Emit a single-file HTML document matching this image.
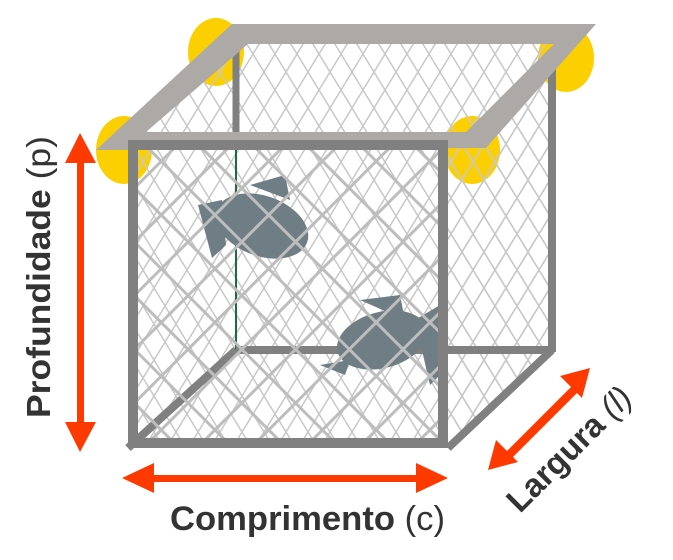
<!DOCTYPE html>
<html><head><style>
html,body{margin:0;padding:0;background:#fff;}
svg{display:block}
text{font-family:"Liberation Sans",sans-serif;font-weight:bold;fill:#333}
</style></head><body>
<svg width="673" height="560" viewBox="0 0 673 560" xmlns="http://www.w3.org/2000/svg">
<defs>
<pattern id="mesh" width="38" height="38" patternUnits="userSpaceOnUse" patternTransform="rotate(45)">
<rect width="38" height="38" fill="none" stroke="#bdbdbd" stroke-width="3"/>
</pattern>
<pattern id="mesh2" width="22" height="36" patternUnits="userSpaceOnUse">
<path d="M0 0 L11 18 L0 36 M22 0 L11 18 L22 36" fill="none" stroke="#c8c8c8" stroke-width="1.5"/>
</pattern>
</defs>
<ellipse cx="216" cy="52" rx="28" ry="34" fill="#fcd000"/>
<ellipse cx="124" cy="150" rx="28" ry="34" fill="#fcd000"/>
<ellipse cx="566" cy="58" rx="28" ry="34" fill="#fcd000"/>
<ellipse cx="472" cy="150" rx="28" ry="34" fill="#fcd000"/>
<polygon points="236,40 552,40 552,350 236,350" fill="url(#mesh2)"/>
<polygon points="128,140 236,40 236,350 128,448" fill="url(#mesh2)"/>
<polygon points="448,140 552,40 552,350 448,448" fill="url(#mesh2)"/>
<polygon points="128,448 236,350 552,350 448,448" fill="url(#mesh2)"/>
<line x1="236" y1="40" x2="236" y2="150" stroke="#808080" stroke-width="7"/>
<line x1="236" y1="150" x2="236" y2="350" stroke="#1e6b3a" stroke-width="2"/>
<line x1="552" y1="60" x2="552" y2="352" stroke="#808080" stroke-width="8"/>
<line x1="236" y1="350" x2="552" y2="350" stroke="#808080" stroke-width="8"/>
<line x1="128" y1="448" x2="236" y2="350" stroke="#808080" stroke-width="8"/>
<line x1="448" y1="448" x2="552" y2="350" stroke="#808080" stroke-width="8"/>
<g fill="#6f7d84">
<ellipse cx="262" cy="226" rx="48" ry="30" transform="rotate(20 262 226)"/>
<polygon points="198,205 222,200 226,245 212,258"/>
<polygon points="250,185 285,175 290,200"/>
<ellipse cx="382" cy="340" rx="46" ry="28" transform="rotate(-15 382 340)"/>
<polygon points="415,320 440,305 445,370 430,385"/>
<polygon points="360,300 400,295 405,320"/>
<polygon points="320,365 350,360 345,375"/>
</g>
<rect x="128" y="140" width="320" height="308" fill="url(#mesh)"/>
<path d="M232,24 L596,24 L486,148 L96,150 Z M248,44 L554,44 L466,132 L146,132 Z" fill="#aca9a7" fill-rule="evenodd"/>
<rect x="133" y="145" width="310" height="298" fill="none" stroke="#808080" stroke-width="10"/>
<g fill="#ff3a00">
<rect x="77" y="160" width="7" height="268"/>
<polygon points="80,133 65,163 96,163"/>
<polygon points="80,452 65,422 96,422"/>
<rect x="150" y="475" width="270" height="7"/>
<polygon points="122,478 154,463 154,493"/>
<polygon points="448,478 416,463 416,493"/>
<polygon points="500,458 580,378 586,384 506,464"/>
<polygon points="488,470 496,440 518,462"/>
<polygon points="590,368 582,398 560,376"/>
</g>
<text transform="translate(50,418) rotate(-90)" font-size="33" textLength="282" lengthAdjust="spacingAndGlyphs">Profundidade <tspan font-weight="normal">(p)</tspan></text>
<text x="170" y="530" font-size="34" textLength="275" lengthAdjust="spacingAndGlyphs">Comprimento <tspan font-weight="normal">(c)</tspan></text>
<text transform="translate(520,514) rotate(-45)" font-size="33">Largura <tspan font-weight="normal" font-style="italic">(l)</tspan></text>
</svg>
</body></html>
